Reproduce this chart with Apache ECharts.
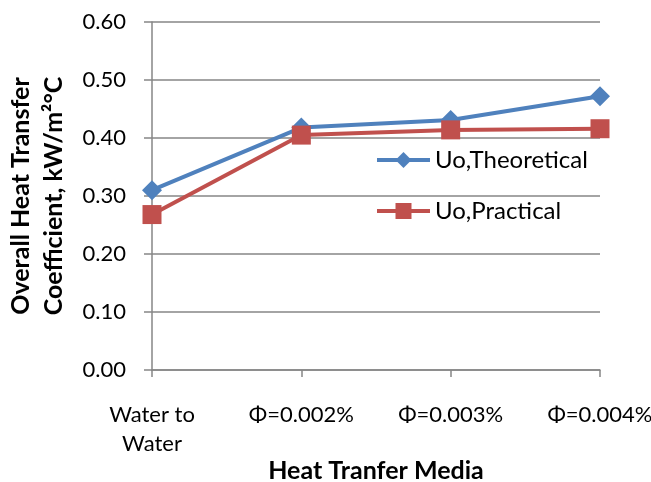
<!DOCTYPE html>
<html><head><meta charset="utf-8">
<script src="https://cdn.jsdelivr.net/npm/echarts@6/dist/echarts.min.js"></script>
<style>html,body{margin:0;padding:0;background:#fff}#c{width:651px;height:482px}</style>
</head><body><div id="c"></div>
<script>
const categories = ["Water to\nWater", "\u03A6=0.002%", "\u03A6=0.003%", "\u03A6=0.004%"];
const theoretical = [0.310, 0.418, 0.431, 0.472];
const practical = [0.268, 0.405, 0.414, 0.416];
const yTicks = [0, 0.6, 0.1];

const FONT = "Lato, 'Open Sans', sans-serif";
const chart = echarts.init(document.getElementById('c'));
chart.setOption({
  animation: false,
  grid: {left: 152, right: 51, top: 22, bottom: 112, outerBoundsMode: 'none', containLabel: false},
  legend: {
    orient: 'vertical', left: 375, top: 148, itemGap: 27, padding: 0,
    itemWidth: 53, itemHeight: 20,
    lineStyle: {width: 4},
    textStyle: {fontFamily: FONT, fontSize: 24, color: '#000'},
    data: ['Uo,Theoretical', 'Uo,Practical']
  },
  xAxis: {
    type: 'category', data: categories, boundaryGap: false,
    axisLine: {lineStyle: {color: '#868686', width: 1.5}},
    axisTick: {alignWithLabel: true, length: 7, lineStyle: {color: '#868686', width: 1.5}},
    axisLabel: {fontFamily: FONT, fontSize: 22, color: '#000', margin: 30, lineHeight: 29},
    name: 'Heat Tranfer Media', nameLocation: 'middle', nameGap: 88, nameMoveOverlap: false,
    nameTextStyle: {fontFamily: FONT, fontSize: 25, fontWeight: 'bold', color: '#000'}
  },
  yAxis: {
    type: 'value', min: yTicks[0], max: yTicks[1], interval: yTicks[2],
    axisLine: {show: true, lineStyle: {color: '#868686', width: 1.5}},
    axisTick: {show: true, length: 8, lineStyle: {color: '#868686', width: 1.5}},
    splitLine: {lineStyle: {color: '#868686', width: 1.5}},
    axisLabel: {fontFamily: FONT, fontSize: 22, color: '#000', margin: 26, formatter: v => v.toFixed(2)},
    name: 'Overall Heat Transfer\nCoefficient, kW/m\u00B2\u00B0C', nameLocation: 'middle', nameGap: 82,
    nameTextStyle: {fontFamily: FONT, fontSize: 25, fontWeight: 'bold', color: '#000', lineHeight: 33}
  },
  series: [
    {name: 'Uo,Theoretical', type: 'line', data: theoretical, symbol: 'diamond', symbolSize: 20,
     lineStyle: {color: '#4F81BD', width: 4}, itemStyle: {color: '#4F81BD'}},
    {name: 'Uo,Practical', type: 'line', data: practical, symbol: 'rect', symbolSize: 19,
     lineStyle: {color: '#C0504D', width: 4}, itemStyle: {color: '#C0504D'}}
  ]
});
</script></body></html>
